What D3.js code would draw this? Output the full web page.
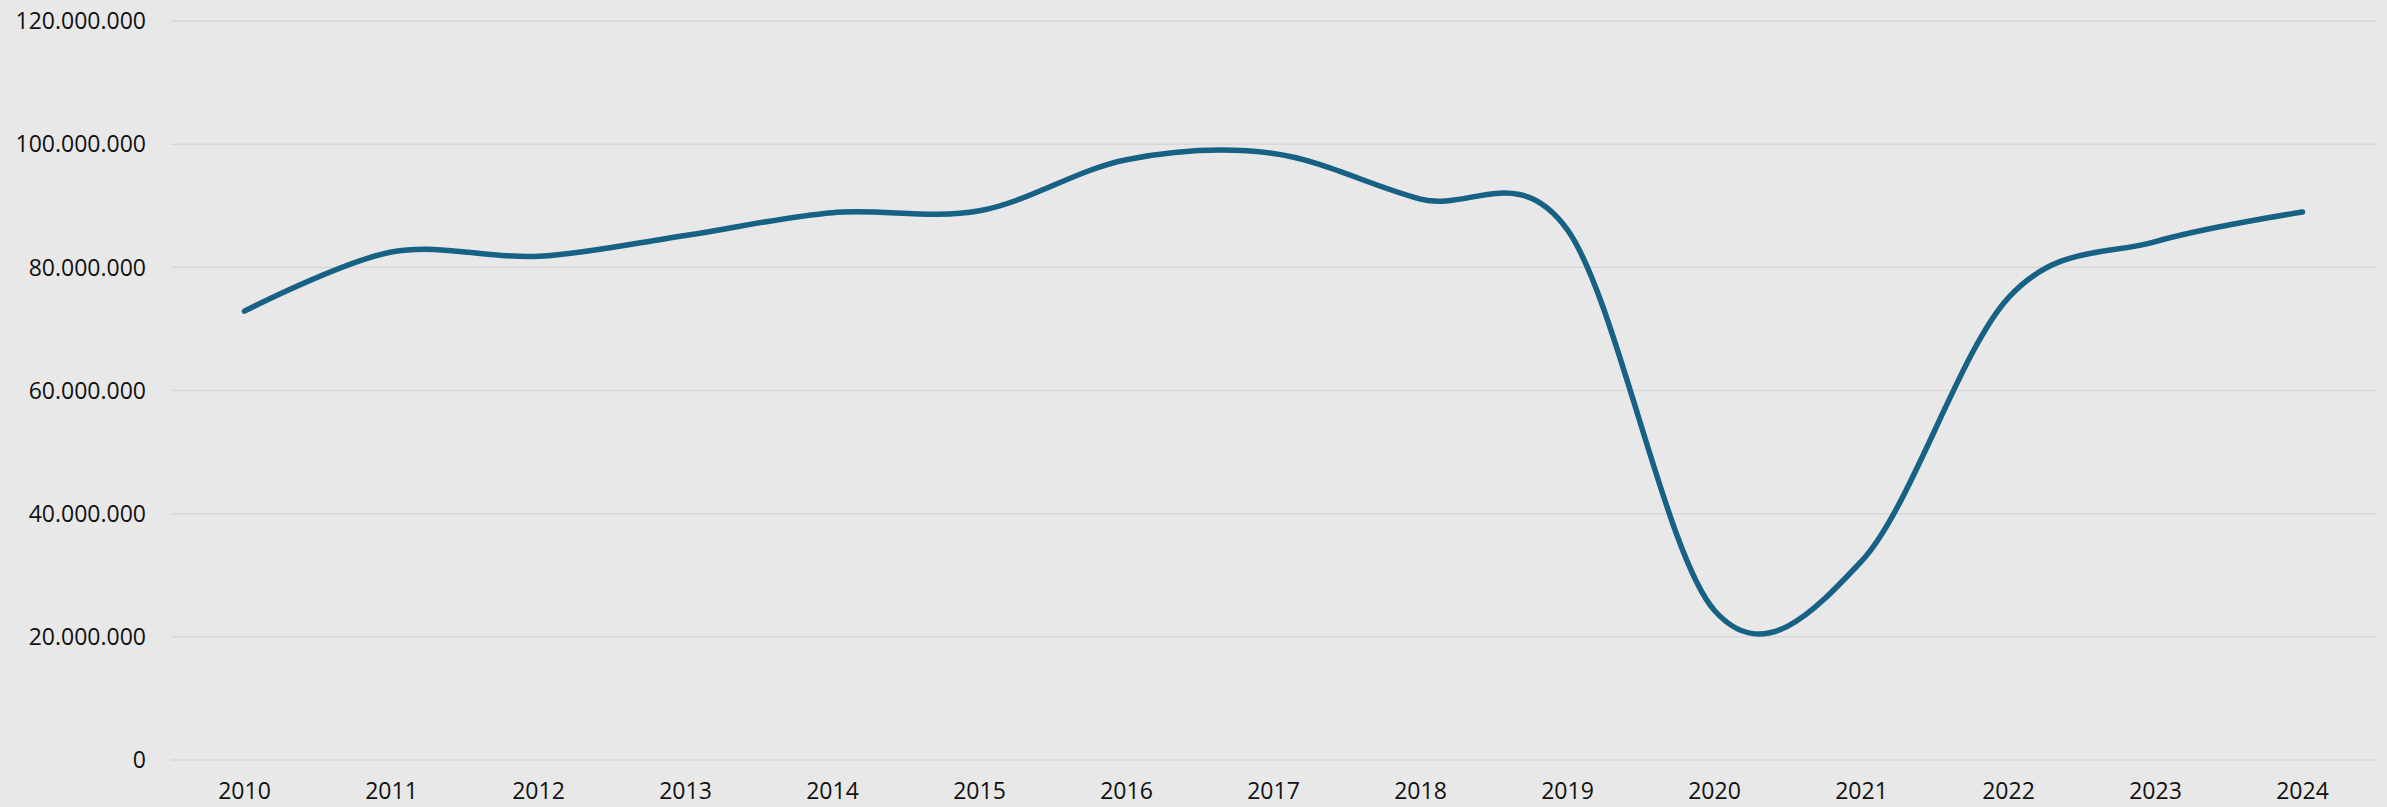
<!DOCTYPE html>
<html lang="en">
<head>
  <meta charset="UTF-8">
  <title>Yearly line</title>
  <script src="https://d3js.org/d3.v7.min.js"></script>
  <style>
    body {
      margin: 0;
      background: #e8e8e8;
    }
    svg {
      display: block;
      background: #e8e8e8;
    }
    .tick text {
      font-family: "Open Sans", sans-serif;
      font-size: 23px;
      fill: #111;
    }
  </style>
</head>
<body>
<svg></svg>

<script>
  // data
  const years = ["2010", "2011", "2012", "2013", "2014", "2015", "2016", "2017",
                 "2018", "2019", "2020", "2021", "2022", "2023", "2024"];
  const values = [72.8, 82.4, 81.7, 85.1, 88.8, 89.1, 97.4, 98.4,
                  91.0, 86.0, 24.2, 32.2, 75.0, 84.1, 88.9].map(v => v * 1e6);
  const yTicks = [0, 20e6, 40e6, 60e6, 80e6, 100e6, 120e6];

  const width = 2387;
  const height = 807;
  const margin = { top: 20.5, right: 11, bottom: 47.5, left: 171 };

  const svg = d3.select("svg")
    .attr("width", width)
    .attr("height", height);

  const x = d3.scaleBand()
    .domain(years)
    .range([margin.left, width - margin.right]);

  const y = d3.scaleLinear()
    .domain([0, 120e6])
    .range([height - margin.bottom, margin.top]);

  const locale = d3.formatLocale({ decimal: ",", thousands: ".", grouping: [3], currency: ["", "€"] });
  const fmt = locale.format(",d");

  // gridlines + y labels
  const yAxis = svg.append("g")
    .attr("transform", `translate(${margin.left},0)`)
    .call(d3.axisLeft(y)
      .tickValues(yTicks)
      .tickFormat(fmt)
      .tickSize(-(width - margin.left - margin.right))
      .tickPadding(25));
  yAxis.select(".domain").remove();
  yAxis.selectAll(".tick line")
    .attr("stroke", "#d8d8d8")
    .attr("stroke-width", 1.5);
  yAxis.selectAll(".tick text").attr("dy", "0.36em");

  // x labels (kept just inside the bottom edge)
  const xAxis = svg.append("g")
    .attr("transform", `translate(0,${height - margin.bottom})`)
    .call(d3.axisBottom(x).tickSize(0).tickPadding(23));
  xAxis.select(".domain").remove();

  // smoothed line, like Excel's smooth option
  const line = d3.line()
    .x((d, i) => x(years[i]) + x.bandwidth() / 2)
    .y(d => y(d))
    .curve(d3.curveCardinal.tension(0));

  svg.append("path")
    .datum(values)
    .attr("fill", "none")
    .attr("stroke", "#176184")
    .attr("stroke-width", 5.5)
    .attr("stroke-linecap", "round")
    .attr("stroke-linejoin", "round")
    .attr("d", line);
</script>
</body>
</html>
